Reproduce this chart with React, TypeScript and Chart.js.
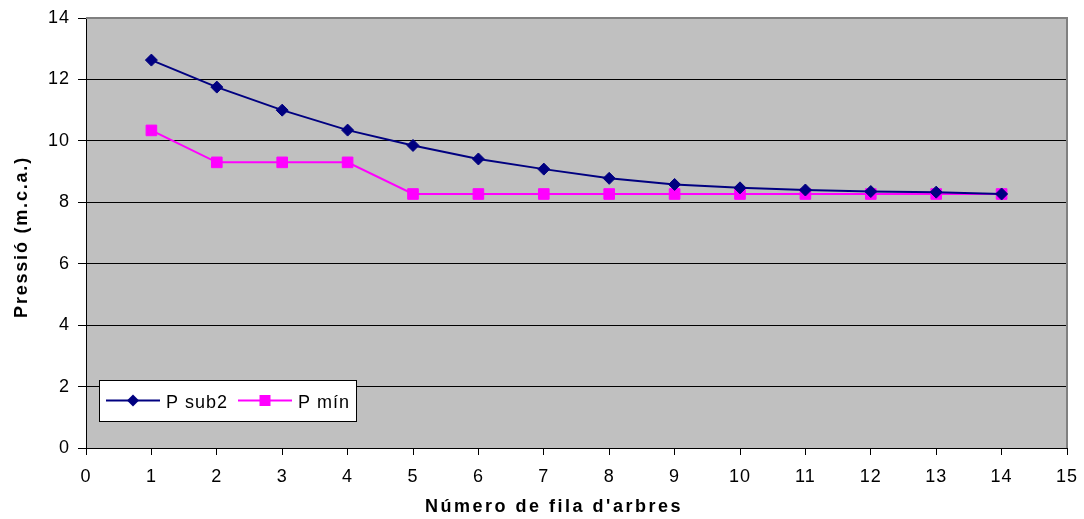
import React, { useEffect, useRef } from "react";
import { Chart, registerables } from "chart.js";

Chart.register(...registerables);

const rows: number[] = [1, 2, 3, 4, 5, 6, 7, 8, 9, 10, 11, 12, 13, 14];
const pSub2: number[] = [12.63, 11.75, 11.0, 10.35, 9.85, 9.41, 9.08, 8.78, 8.58, 8.47, 8.4, 8.35, 8.33, 8.27];
const pMin: number[] = [10.34, 9.3, 9.3, 9.3, 8.27, 8.27, 8.27, 8.27, 8.27, 8.27, 8.27, 8.27, 8.27, 8.27];
const seriesNames: string[] = ["P sub2", "P mín"];
const xTitle = "Número de fila d'arbres";
const yTitle = "Pressió (m.c.a.)";

const FONT = "'Liberation Sans', Arial, sans-serif";

const plotPlugin = {
  id: "plotDecor",
  beforeDraw(chart: any) {
    const { ctx, chartArea } = chart;
    (ctx as any).letterSpacing = "1px";
    ctx.save();
    ctx.fillStyle = "#C0C0C0";
    ctx.fillRect(chartArea.left, chartArea.top, chartArea.right - chartArea.left, chartArea.bottom - chartArea.top);
    ctx.restore();
  },
  beforeDatasetsDraw(chart: any) {
    const { ctx, chartArea } = chart;
    ctx.save();
    ctx.strokeStyle = "#808080";
    ctx.lineWidth = 2;
    ctx.beginPath();
    ctx.moveTo(chartArea.left, chartArea.top);
    ctx.lineTo(chartArea.right, chartArea.top);
    ctx.lineTo(chartArea.right, chartArea.bottom);
    ctx.stroke();
    ctx.restore();
  },
  afterDraw(chart: any) {
    const { ctx, chartArea } = chart;
    ctx.save();
    // axis titles
    ctx.fillStyle = "#000000";
    ctx.font = `bold 18px ${FONT}`;
    (ctx as any).letterSpacing = "2.5px";
    ctx.textAlign = "center";
    ctx.textBaseline = "alphabetic";
    ctx.fillText(xTitle, 554, 512);
    ctx.save();
    (ctx as any).letterSpacing = "1.8px";
    ctx.translate(27, (chartArea.top + chartArea.bottom) / 2 + 4);
    ctx.rotate(-Math.PI / 2);
    ctx.fillText(yTitle, 0, 0);
    ctx.restore();

    // legend
    const x0 = chartArea.left + 13;
    const y0 = chartArea.bottom - 68;
    const w = 257;
    const h = 41;
    ctx.fillStyle = "#FFFFFF";
    ctx.fillRect(x0, y0, w, h);
    ctx.strokeStyle = "#000000";
    ctx.lineWidth = 1;
    ctx.strokeRect(x0 + 0.5, y0 + 0.5, w, h);
    const cy = y0 + 20.5;
    const items = [
      { x1: x0 + 7, x2: x0 + 61, tx: x0 + 67, ds: chart.data.datasets[0] },
      { x1: x0 + 139, x2: x0 + 193, tx: x0 + 199, ds: chart.data.datasets[1] },
    ];
    for (const it of items) {
      ctx.strokeStyle = it.ds.borderColor;
      ctx.lineWidth = 2;
      ctx.beginPath();
      ctx.moveTo(it.x1, cy);
      ctx.lineTo(it.x2, cy);
      ctx.stroke();
      const mx = (it.x1 + it.x2) / 2;
      ctx.fillStyle = it.ds.pointBackgroundColor;
      ctx.beginPath();
      if (it.ds.pointStyle === "rectRot") {
        const r = 6;
        ctx.moveTo(mx - r, cy);
        ctx.lineTo(mx, cy - r);
        ctx.lineTo(mx + r, cy);
        ctx.lineTo(mx, cy + r);
        ctx.closePath();
      } else {
        const s = 5.5;
        ctx.rect(mx - s, cy - s, 2 * s, 2 * s);
      }
      ctx.fill();
      ctx.fillStyle = "#000000";
      ctx.font = `18px ${FONT}`;
      (ctx as any).letterSpacing = "1px";
      ctx.textBaseline = "alphabetic";
      ctx.textAlign = "left";
      ctx.fillText(it.ds.label, it.tx, cy + 7);
    }
    ctx.restore();
  },
};

export default function App() {
  const ref = useRef<HTMLCanvasElement | null>(null);
  useEffect(() => {
    document.body.style.margin = "0";
    const canvas = ref.current!;
    const chart = new Chart(canvas, {
      type: "line",
      data: {
        datasets: [
          {
            label: seriesNames[0],
            data: rows.map((x, i) => ({ x, y: pSub2[i] })),
            borderColor: "#000080",
            backgroundColor: "#000080",
            pointBackgroundColor: "#000080",
            pointBorderColor: "#000080",
            pointStyle: "rectRot",
            pointRadius: 6,
            pointBorderWidth: 1,
            borderWidth: 2,
            tension: 0,
          },
          {
            label: seriesNames[1],
            data: rows.map((x, i) => ({ x, y: pMin[i] })),
            borderColor: "#FF00FF",
            backgroundColor: "#FF00FF",
            pointBackgroundColor: "#FF00FF",
            pointBorderColor: "#FF00FF",
            pointStyle: "rect",
            pointRadius: 7.5,
            pointBorderWidth: 1,
            borderWidth: 2,
            tension: 0,
          },
        ],
      },
      options: {
        animation: false,
        responsive: false,
        maintainAspectRatio: false,
        layout: { padding: { top: 18, right: 17, left: 0, bottom: 0 } },
        plugins: {
          legend: { display: false },
          tooltip: { enabled: false },
        },
        scales: {
          x: {
            type: "linear",
            min: 0,
            max: 15,
            ticks: {
              stepSize: 1,
              color: "#000",
              font: { family: FONT, size: 18 },
              padding: 11,
              maxRotation: 0,
            },
            grid: {
              drawOnChartArea: false,
              drawTicks: true,
              tickLength: 7,
              tickColor: "#000",
            },
            border: { color: "#000", width: 1 },
            title: { display: false },
            afterFit: (scale: any) => {
              scale.height = 71;
              scale.paddingRight = 0;
              scale.paddingLeft = 0;
            },
          },
          y: {
            min: 0,
            max: 14,
            ticks: {
              stepSize: 2,
              color: "#000",
              font: { family: FONT, size: 18 },
              padding: 8,
            },
            grid: {
              color: (c: any) => (c.tick && c.tick.value === 14 ? "rgba(0,0,0,0)" : "#000"),
              tickColor: "#000",
              tickLength: 8,
              lineWidth: 1,
            },
            border: { color: "#000", width: 1 },
            title: { display: false },
            afterFit: (scale: any) => {
              scale.width = 86;
              scale.paddingTop = 0;
              scale.paddingBottom = 0;
            },
          },
        },
      },
      plugins: [plotPlugin],
    } as any);
    return () => chart.destroy();
  }, []);
  return (
    <div style={{ position: "absolute", left: 0, top: 0, width: 1084, height: 519 }}>
      <canvas ref={ref} width={1084} height={519} style={{ width: 1084, height: 519 }} />
    </div>
  );
}
